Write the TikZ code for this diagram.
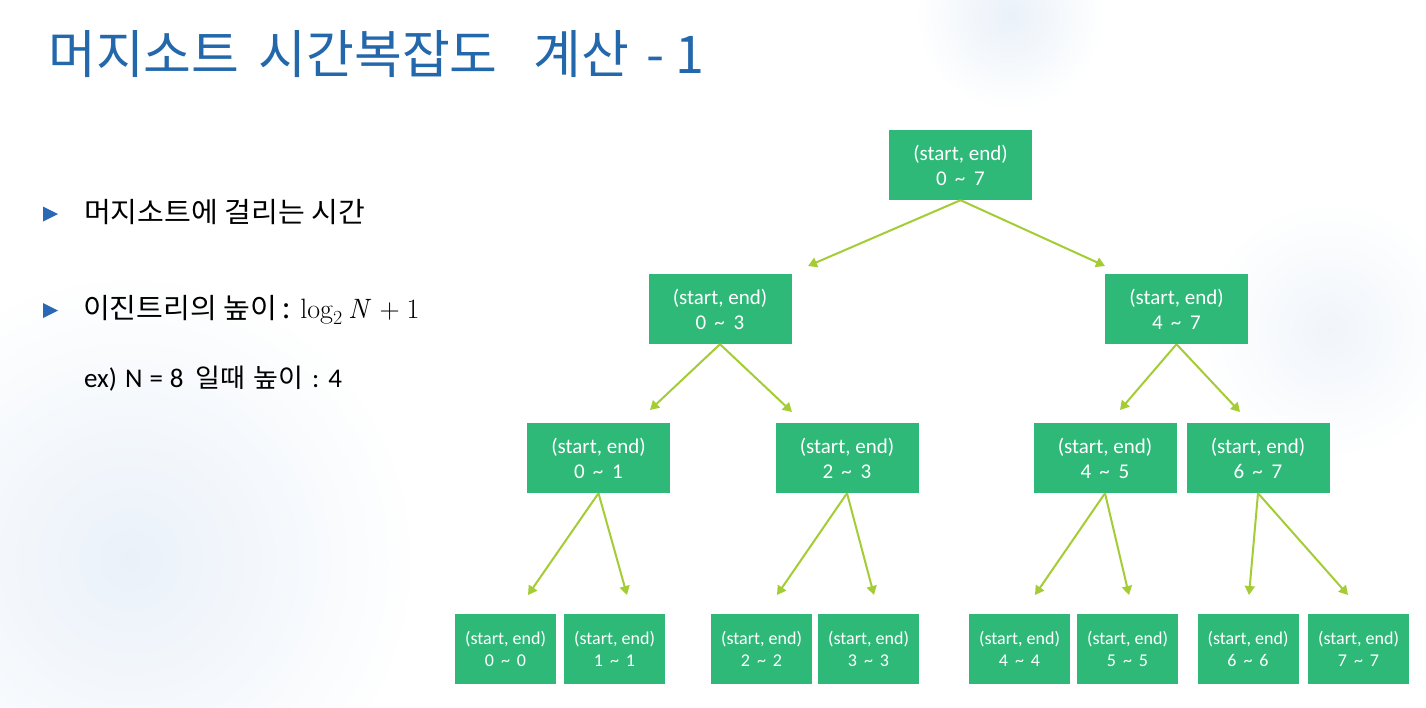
\documentclass[tikz,border=0pt]{standalone}
\usepackage{fontspec}
\newfontfamily\kr{Noto Sans CJK KR}
\newfontfamily\krw[FakeStretch=1.04,WordSpace=1.6]{Noto Sans CJK KR}
\newfontfamily\krx[FakeStretch=1.04]{Noto Sans CJK KR}
\newfontfamily\boxf{Carlito}
\usetikzlibrary{arrows.meta}
\definecolor{boxgreen}{RGB}{47,185,121}
\definecolor{arrowgreen}{RGB}{164,204,52}
\definecolor{titleblue}{RGB}{36,104,172}
\definecolor{bulletblue}{RGB}{40,104,180}
\definecolor{bgblue}{RGB}{234,241,249}
\newcommand{\logform}{{\rmfamily\fontsize{28}{30}\selectfont log\raisebox{-6pt}{\fontsize{20}{20}\selectfont 2}\hspace{6pt}\textit{N}\hspace{8pt}+\hspace{7pt}1}}
\begin{document}
\begin{tikzpicture}[x=1pt,y=-1pt,
  box/.style={fill=boxgreen, text=white, minimum height=70pt, inner sep=0pt, align=center},
  bigbox/.style={box, minimum width=143pt, font=\boxf\fontsize{21}{25}\selectfont},
  smallbox/.style={box, minimum width=101pt, font=\boxf\fontsize{18}{22}\selectfont},
  link/.style={draw=arrowgreen, line width=2pt, -{Triangle[width=10pt,length=9pt]}},
  bodytext/.style={anchor=base west, inner sep=0pt, text=black, font=\krw\fontsize{28}{32}\selectfont},
  bulletmark/.style={fill=bulletblue}
]
\useasboundingbox (0,0) rectangle (1426,707);
\fill[white] (0,0) rectangle (1426,707);
% faint background blobs
\shade[inner color=bgblue, outer color=white] (1010,15) circle (95);
\shade[inner color=bgblue, outer color=white] (130,560) circle (290);
\shade[inner color=bgblue!70, outer color=white] (1330,330) circle (130);

% title
\node[anchor=base west, inner sep=0pt, text=titleblue, font=\kr\fontsize{52}{56}\selectfont] (title) at (48,73) {머지소트\hspace{19pt}시간복잡도\hspace{36pt}계산\hspace{17pt}-\hspace{11pt}1};

% bullets
\fill[bulletmark] (43,206.5) -- (58,214) -- (43,221.5) -- cycle;
\fill[bulletmark] (43,303) -- (58,310.5) -- (43,318) -- cycle;
\node[bodytext] (t1) at (84,222) {머지소트에 걸리는 시간};
\node[bodytext] (t2) at (83,318) {이진트리의 높이\hspace{5pt}:\hspace{10pt}\logform};
\node[bodytext, font=\krx\fontsize{26}{30}\selectfont] (t3) at (84,387) {{\boxf\fontsize{27}{30}\selectfont ex)\hspace{8pt}N\hspace{7pt}=\hspace{7pt}8}\hspace{12pt}일때\hspace{8pt}높이\hspace{9pt}{\boxf\fontsize{27}{30}\selectfont :\hspace{9pt}4}};

% tree nodes
\node[bigbox] (r) at (960.5,165) {(start, end)\\0\hspace{8pt}\textasciitilde\hspace{9pt}7};
\node[bigbox] (a) at (720,309) {(start, end)\\0\hspace{8pt}\textasciitilde\hspace{9pt}3};
\node[bigbox] (b) at (1176.5,309) {(start, end)\\4\hspace{8pt}\textasciitilde\hspace{9pt}7};
\node[bigbox] (c) at (598.5,458) {(start, end)\\0\hspace{8pt}\textasciitilde\hspace{9pt}1};
\node[bigbox] (d) at (847,458) {(start, end)\\2\hspace{8pt}\textasciitilde\hspace{9pt}3};
\node[bigbox] (e) at (1105,458) {(start, end)\\4\hspace{8pt}\textasciitilde\hspace{9pt}5};
\node[bigbox] (f) at (1258,458) {(start, end)\\6\hspace{8pt}\textasciitilde\hspace{9pt}7};
\node[smallbox] (g0) at (505.5,648.5) {(start, end)\\0\hspace{7pt}\textasciitilde\hspace{7pt}0};
\node[smallbox] (g1) at (614.5,648.5) {(start, end)\\1\hspace{7pt}\textasciitilde\hspace{7pt}1};
\node[smallbox] (g2) at (761.5,648.5) {(start, end)\\2\hspace{7pt}\textasciitilde\hspace{7pt}2};
\node[smallbox] (g3) at (868.5,648.5) {(start, end)\\3\hspace{7pt}\textasciitilde\hspace{7pt}3};
\node[smallbox] (g4) at (1019.5,648.5) {(start, end)\\4\hspace{7pt}\textasciitilde\hspace{7pt}4};
\node[smallbox] (g5) at (1127.5,648.5) {(start, end)\\5\hspace{7pt}\textasciitilde\hspace{7pt}5};
\node[smallbox] (g6) at (1248,648.5) {(start, end)\\6\hspace{7pt}\textasciitilde\hspace{7pt}6};
\node[smallbox] (g7) at (1358.5,648.5) {(start, end)\\7\hspace{7pt}\textasciitilde\hspace{7pt}7};

% arrow end points
\coordinate (ra) at (808,266);
\coordinate (rb) at (1105,266);
\coordinate (ac) at (650,410);
\coordinate (ad) at (792,412);
\coordinate (be) at (1120,410);
\coordinate (bf) at (1240,412);
\coordinate (c0) at (528,595);
\coordinate (c1) at (627,595);
\coordinate (d2) at (777,595);
\coordinate (d3) at (874,595);
\coordinate (e4) at (1035,595);
\coordinate (e5) at (1129,595);
\coordinate (f6) at (1249,595);
\coordinate (f7) at (1348,595);

\draw[link] (r.south) -- (ra);
\draw[link] (r.south) -- (rb);
\draw[link] (a.south) -- (ac);
\draw[link] (a.south) -- (ad);
\draw[link] (b.south) -- (be);
\draw[link] (b.south) -- (bf);
\draw[link] (c.south) -- (c0);
\draw[link] (c.south) -- (c1);
\draw[link] (d.south) -- (d2);
\draw[link] (d.south) -- (d3);
\draw[link] (e.south) -- (e4);
\draw[link] (e.south) -- (e5);
\draw[link] (f.south) -- (f6);
\draw[link] (f.south) -- (f7);
\end{tikzpicture}
\end{document}
